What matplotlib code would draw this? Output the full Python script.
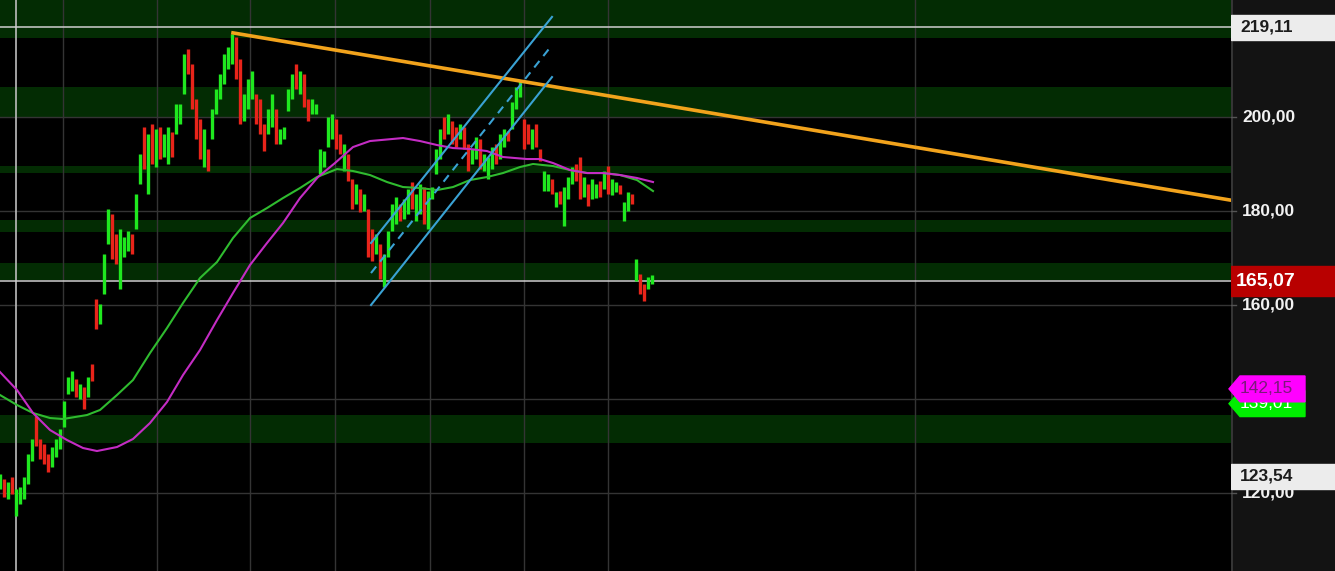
import numpy as np
import matplotlib.pyplot as plt
from matplotlib.patches import Polygon, Rectangle

# daily bars (high / low), one bar every ~4 px
bar_hi = [124.0, 123.0, 122.3, 123.4, 120.9, 121.3, 123.4, 128.3, 131.5, 136.4,
          131.5, 130.4, 128.3, 129.8, 131.5, 133.6, 139.6, 144.7, 146.0, 144.3,
          143.2, 142.6, 144.7, 147.4, 161.3, 160.2, 170.9, 180.4, 179.4, 175.1,
          176.2, 174.5, 175.7, 175.1, 183.6, 192.1, 197.9, 196.4, 198.5, 197.4,
          197.9, 196.4, 197.9, 196.8, 202.8, 202.8, 213.4, 214.5, 211.3, 203.8,
          199.6, 197.4, 193.2, 201.7, 206.0, 209.1, 213.4, 214.9, 217.7, 217.0,
          212.3, 204.9, 208.1, 209.8, 204.9, 203.8, 198.5, 201.7, 204.9, 201.7,
          197.4, 197.9, 206.0, 209.1, 211.3, 209.8, 209.1, 203.8, 203.8, 202.8,
          193.2, 192.8, 200.0, 200.6, 199.6, 196.4, 194.3, 192.1, 186.8, 185.7,
          184.7, 183.6, 180.4, 176.2, 175.1, 173.0, 170.9, 175.7, 181.5, 183.0,
          181.5, 182.6, 184.7, 186.2, 183.6, 185.7, 185.1, 184.3, 185.1, 193.2,
          197.4, 200.0, 200.6, 199.1, 197.9, 198.5, 197.9, 194.3, 193.2, 195.7,
          195.3, 192.1, 191.5, 193.6, 194.3, 196.4, 197.4, 197.0, 203.2, 206.4,
          207.7, 199.6, 198.5, 197.4, 198.5, 193.2, 188.5, 187.9, 186.8, 184.0,
          184.3, 185.1, 187.2, 189.4, 190.0, 191.5, 187.2, 185.7, 186.8, 185.7,
          186.4, 188.5, 189.6, 186.8, 186.2, 185.5, 181.9, 184.0, 183.6, 169.8,
          166.6, 164.5, 166.0, 166.4]
bar_lo = [120.9, 119.1, 118.7, 119.8, 115.1, 117.7, 118.7, 121.9, 126.8, 130.0,
          127.2, 126.2, 124.5, 125.5, 127.7, 129.4, 134.0, 141.1, 141.7, 140.4,
          140.0, 137.9, 140.4, 143.8, 154.9, 156.0, 162.3, 173.0, 169.8, 168.7,
          163.4, 170.2, 171.5, 170.9, 176.2, 185.7, 188.9, 183.6, 190.0, 189.4,
          191.1, 191.5, 190.0, 191.5, 196.4, 198.5, 204.9, 209.1, 201.7, 195.3,
          191.1, 189.4, 188.5, 195.3, 200.6, 203.8, 207.0, 210.2, 211.3, 208.1,
          198.5, 199.1, 201.7, 203.8, 198.5, 196.4, 192.8, 196.4, 197.9, 194.3,
          194.3, 195.3, 201.3, 203.8, 206.0, 204.9, 202.1, 199.1, 200.6, 200.6,
          187.9, 189.4, 193.6, 195.3, 193.2, 192.1, 188.5, 186.4, 180.4, 181.5,
          179.8, 180.0, 170.2, 169.4, 170.9, 165.5, 163.8, 170.2, 175.7, 177.2,
          177.9, 178.3, 179.4, 180.4, 177.9, 179.4, 177.2, 176.2, 182.6, 187.9,
          191.1, 195.3, 196.4, 194.3, 193.6, 195.3, 193.2, 188.5, 190.0, 191.1,
          188.9, 188.5, 186.8, 188.9, 190.0, 191.1, 193.6, 194.9, 197.4, 201.7,
          204.3, 193.2, 194.3, 193.2, 193.6, 190.6, 184.3, 184.3, 183.6, 180.9,
          181.5, 176.8, 182.6, 185.7, 186.4, 182.6, 183.0, 181.1, 182.6, 182.8,
          183.0, 184.7, 183.6, 183.4, 184.0, 183.6, 177.9, 180.0, 181.5, 165.1,
          162.3, 160.9, 163.4, 164.5]
# g = up bar, r = down bar
bar_dir = ("grgrgggggr" "rrrggggggr" "grgrrgggrr" "gggrggrgrg" "rggrgggrrr"
           "rgrggggggr" "rgggrrrggr" "ggggrgrrgg" "ggggrrgrrg" "rgrrgrgggg"
           "rggrggrggg" "grgrrgrrgg" "rgggrggrgg" "grrgrrggrg" "rgggrrgrgg"
           "rgrggrggrg" "rrgg")

# moving averages (x in bar units)
ma_green_x = [0, 4.25, 8.25, 12.5, 15.75, 21.75, 25, 29.25, 33.25, 37.5,
              41.75, 45.75, 50, 54.25, 58.25, 62.5, 66.75, 70.75, 75, 79.25,
              84.25, 88.25, 92.5, 96.75, 100.75, 105, 109.25, 113.25, 117.5, 121.75,
              125.75, 130, 133.25, 138.25, 142.5, 146.75, 150.75, 155, 159.25, 163.25]
ma_green = [140.85, 138.72, 137.02, 135.95, 135.74, 136.59, 137.66, 140.85, 144.04, 149.78,
            155.10, 160.42, 165.74, 169.15, 174.25, 178.51, 180.63, 182.76, 184.89, 187.23,
            188.93, 188.51, 187.66, 186.17, 185.10, 184.89, 184.46, 185.10, 186.59, 187.23,
            188.08, 189.36, 190.00, 189.57, 188.72, 188.08, 188.08, 187.66, 186.59, 184.25]
ma_pink_x = [0, 4.25, 8.25, 12.5, 16.75, 20.75, 24.25, 29.25, 33.25, 37.5,
             41.75, 45.75, 50, 54.25, 58.25, 62.5, 66.75, 70.75, 75, 79.5,
             83.75, 88.25, 92.5, 100.75, 105, 109.25, 113.25, 117.5, 121.75, 125.75,
             131.75, 135, 138.25, 142.5, 146.75, 150.75, 155, 159.25, 163.25]
ma_pink = [145.74, 141.91, 137.02, 133.40, 131.27, 129.57, 128.93, 129.78, 131.49, 134.89,
           139.36, 145.10, 150.42, 156.80, 162.55, 168.51, 173.19, 177.44, 182.76, 187.23,
           190.21, 193.61, 194.89, 195.53, 194.89, 194.04, 193.40, 193.19, 192.76, 191.49,
           191.06, 191.06, 190.21, 188.72, 188.08, 188.08, 187.66, 187.02, 186.17]

# drawn objects
trend_x = [58.25, 307.75]
trend_y = [217.9, 182.3]
chan_x = [92.75, 138.0]
chan_upper = [173.2, 221.3]
chan_mid = [166.8, 215.3]
chan_lower = [160.0, 208.5]

zones = [(216.8, 230.0), (199.8, 206.4), (188.1, 189.6), (175.5, 178.1), (165.3, 168.9), (130.6, 136.6)]
grid_prices = [200, 180, 160, 140, 120]
tick_prices = [200, 180, 160, 120]
tick_labels = ['200,00', '180,00', '160,00', '120,00']
vgrid_x = [15.75, 39.25, 62.5, 83.75, 107.5, 131.0, 152.0, 228.75]
cursor_x = 4.0
hlines = [219.11, 165.07]

YMIN, YMAX = 103.4, 224.9

fig = plt.figure(figsize=(13.35, 5.71), dpi=100, facecolor='black')
ax = fig.add_axes([0, 0, 1231 / 1335, 1])
ax.set_facecolor('black')
ax.set_xlim(0, 307.75)
ax.set_ylim(YMIN, YMAX)
ax.set_xticks([])
ax.set_yticks([])
for s in ax.spines.values():
    s.set_visible(False)

for lo, hi in zones:
    ax.axhspan(lo, hi, color='#032c03', lw=0, zorder=0)
for p in grid_prices:
    ax.axhline(p, color='#343434', lw=1, zorder=1)
for xv in vgrid_x:
    ax.axvline(xv, color='#343434', lw=1, zorder=1)
ax.axvline(cursor_x, color='#bdbdbd', lw=1.2, zorder=1)
for p in hlines:
    ax.axhline(p, color='#cfcfcf', lw=1.1, zorder=1)

# price bars
xs = np.arange(len(bar_hi))
cols = ['#1fe81f' if d == 'g' else '#e8241a' for d in bar_dir]
ax.vlines(xs, bar_lo, bar_hi, colors=cols, lw=2.4, zorder=3)

ax.plot(ma_green_x, ma_green, color='#2fbb2f', lw=1.5, zorder=4)
ax.plot(ma_pink_x, ma_pink, color='#c42cc4', lw=1.5, zorder=4)

ax.plot(trend_x, trend_y, color='#f2a31c', lw=2.6, zorder=5)
ax.plot(chan_x, chan_upper, color='#3aa2d4', lw=1.5, zorder=5)
ax.plot(chan_x, chan_lower, color='#3aa2d4', lw=1.5, zorder=5)
ax.plot(chan_x, chan_mid, color='#3aa2d4', lw=1.5, ls=(0, (4, 3)), zorder=5)

# price scale panel on the right
ax2 = fig.add_axes([1231 / 1335, 0, 104 / 1335, 1])
ax2.set_facecolor('#131313')
ax2.set_xlim(0, 104)
ax2.set_ylim(YMIN, YMAX)
ax2.set_xticks([])
ax2.set_yticks([])
for s in ax2.spines.values():
    s.set_visible(False)
ax2.axvline(0.5, color='#3c3c3c', lw=1.2)

font = ['Liberation Sans', 'DejaVu Sans']
for p, t in zip(tick_prices, tick_labels):
    ax2.plot([0, 5], [p, p], color='#555555', lw=1)
    ax2.text(11, p, t, color='#f2f2f2', fontsize=12.5, fontweight='bold',
             family=font, va='center', ha='left')

# level labels
ax2.add_patch(Rectangle((0, 219.11 - 2.7), 104, 5.4, color='#ececec', zorder=5))
ax2.text(9, 219.11, '219,11', color='#1c1c1c', fontsize=12.5, fontweight='bold',
         family=font, va='center', zorder=6)

ax2.add_patch(Rectangle((0, 165.07 - 3.2), 104, 6.4, color='#b80000', zorder=5))
ax2.text(5, 165.07, '165,07', color='white', fontsize=14, fontweight='bold',
         family=font, va='center', zorder=6)

ax2.add_patch(Rectangle((0, 123.54 - 2.6), 104, 5.2, color='#ececec', zorder=5))
ax2.text(9, 123.54, '123,54', color='#1c1c1c', fontsize=12.5, fontweight='bold',
         family=font, va='center', zorder=6)


def arrow_label(price, face, txt, tcol, z):
    h = 2.75
    pts = [(-2, price), (9, price + h), (74, price + h), (74, price - h), (9, price - h)]
    ax2.add_patch(Polygon(pts, closed=True, color=face, clip_on=False, zorder=z))
    ax2.text(9, price, txt, color=tcol, fontsize=12.5, family=font,
             va='center', zorder=z + 0.5)


arrow_label(139.01, '#00ee00', '139,01', 'white', 7)
arrow_label(142.15, '#ff00ff', '142,15', '#7a1a7a', 8)

plt.savefig('out.png', dpi=100, facecolor='black')
